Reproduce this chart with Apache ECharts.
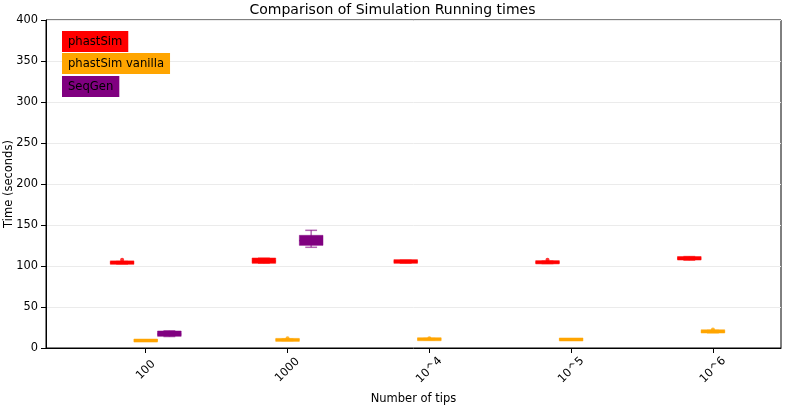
<!DOCTYPE html>
<html>
<head>
<meta charset="utf-8">
<script src="https://cdn.jsdelivr.net/npm/echarts@6/dist/echarts.min.js"></script>
<style>html,body{margin:0;padding:0;background:#fff}#c{width:785px;height:407px}</style>
</head>
<body>
<div id="c"></div>
<script>
// ---- data ----
const tickLabels = ['100', '1000', '10^4', '10^5', '10^6'];
const groupSpacing = 3;
const seriesNames = ['phastSim', 'phastSim vanilla', 'SeqGen'];
const seriesColors = ['#ff0000', '#ffa500', '#800080'];
const seriesOffsets = [-0.5, 0, 0.5];
// [group index, min, q1, median, q3, max]
const phastSimStats = [
  [0, 102.5, 103.3, 104, 105, 105.5],
  [1, 103.5, 104.5, 106, 108.5, 109.5],
  [2, 103.5, 104.5, 105.5, 106.5, 107],
  [3, 103, 103.8, 104.5, 105.3, 106],
  [4, 107, 108.5, 109.5, 110.3, 111.5]
];
const vanillaStats = [
  [0, 9, 9.3, 9.5, 9.7, 10],
  [1, 9, 9.5, 10, 10.5, 11],
  [2, 10, 10.5, 11, 11.3, 11.6],
  [3, 10.5, 10.7, 10.9, 11, 11.2],
  [4, 18.5, 19.5, 20, 21, 21.5]
];
const seqGenStats = [
  [0, 14, 15.5, 17, 19.5, 21],
  [1, 122.8, 126.4, 131, 136.2, 143.5]
];
// [group index, value]
const phastSimOutliers = [[0, 107.5], [3, 107.5]];
const vanillaOutliers = [[1, 12], [2, 12], [4, 22.5]];
const seqGenOutliers = [];

const allStats = [phastSimStats, vanillaStats, seqGenStats];
const allOutliers = [phastSimOutliers, vanillaOutliers, seqGenOutliers];
const boxWidth = 0.5;

const FONT = 'DejaVu Sans';

function makeRender(color) {
  return function (params, api) {
    const x = api.value(0);
    const pMin = api.coord([x, api.value(1)]);
    const pQ1 = api.coord([x, api.value(2)]);
    const pMed = api.coord([x, api.value(3)]);
    const pQ3 = api.coord([x, api.value(4)]);
    const pMax = api.coord([x, api.value(5)]);
    const w = api.size([boxWidth, 0])[0];
    const cx = pMed[0];
    const lineStyle = { stroke: color, lineWidth: 1.5, opacity: 0.6 };
    return {
      type: 'group',
      children: [
        { type: 'line', shape: { x1: cx, y1: pMin[1], x2: cx, y2: pQ1[1] }, style: lineStyle },
        { type: 'line', shape: { x1: cx, y1: pQ3[1], x2: cx, y2: pMax[1] }, style: lineStyle },
        { type: 'line', shape: { x1: cx - w / 4, y1: pMin[1], x2: cx + w / 4, y2: pMin[1] }, style: lineStyle },
        { type: 'line', shape: { x1: cx - w / 4, y1: pMax[1], x2: cx + w / 4, y2: pMax[1] }, style: lineStyle },
        { type: 'rect', shape: { x: cx - w / 2, y: Math.min(pQ1[1], pQ3[1]) - 1, width: w, height: Math.max(Math.abs(pQ1[1] - pQ3[1]), 1) + 2 },
          style: { fill: color, stroke: color, lineWidth: 0.5 } },
        { type: 'line', shape: { x1: cx - w / 2, y1: pMed[1], x2: cx + w / 2, y2: pMed[1] }, style: { stroke: color, lineWidth: 1.5 } }
      ]
    };
  };
}

const series = [];
seriesNames.forEach((name, i) => {
  series.push({
    name: name,
    type: 'custom',
    renderItem: makeRender(seriesColors[i]),
    encode: { x: 0, y: [1, 2, 3, 4, 5] },
    data: allStats[i].map(r => [r[0] * groupSpacing + seriesOffsets[i], r[1], r[2], r[3], r[4], r[5]]),
    z: 3
  });
  series.push({
    name: name,
    type: 'scatter',
    symbol: 'circle',
    symbolSize: 4,
    itemStyle: { color: seriesColors[i] },
    data: allOutliers[i].map(r => [r[0] * groupSpacing + seriesOffsets[i], r[1]]),
    z: 4
  });
});

const tickValues = tickLabels.map((_, i) => i * groupSpacing);

const chart = echarts.init(document.getElementById('c'), null, { renderer: 'canvas' });
chart.setOption({
  animation: false,
  backgroundColor: '#fff',
  title: {
    text: 'Comparison of Simulation Running times',
    left: 'center', top: -2,
    textStyle: { fontFamily: FONT, fontSize: 14, fontWeight: 'normal', color: '#000' }
  },
  grid: { left: 46, right: 4, top: 20, bottom: 59, show: true, borderColor: '#000', borderWidth: 1,
          containLabel: false, outerBoundsMode: 'none' },
  xAxis: {
    type: 'value',
    min: -2.11, max: 13.44,
    name: 'Number of tips', nameLocation: 'middle', nameGap: 45,
    nameTextStyle: { fontFamily: FONT, fontSize: 11.5, color: '#000' },
    axisLine: { show: true, onZero: false, lineStyle: { color: '#000' } },
    axisTick: { show: true, customValues: tickValues, length: 5, lineStyle: { color: '#000' } },
    axisLabel: {
      customValues: tickValues,
      formatter: v => tickLabels[Math.round(v / groupSpacing)],
      rotate: 45, align: 'center', verticalAlign: 'middle', margin: 22,
      fontFamily: FONT, fontSize: 11.4, color: '#000'
    },
    splitLine: { show: false }
  },
  yAxis: {
    type: 'value',
    min: 0, max: 400, interval: 50,
    name: 'Time (seconds)', nameLocation: 'middle', nameGap: 31,
    nameMoveOverlap: false,
    nameTextStyle: { fontFamily: FONT, fontSize: 11.5, color: '#000' },
    axisLine: { show: true, onZero: false, lineStyle: { color: '#000' } },
    axisTick: { show: true, length: 5, lineStyle: { color: '#000' } },
    axisLabel: { fontFamily: FONT, fontSize: 11.4, color: '#000', margin: 8 },
    splitLine: { show: true, lineStyle: { color: '#ebebeb', width: 1 } }
  },
  graphic: seriesNames.map((name, i) => ({
    type: 'text',
    left: 62,
    top: [31, 53, 76][i],
    z: 100,
    style: {
      text: name,
      fill: '#000',
      font: '11.6px "DejaVu Sans"',
      backgroundColor: seriesColors[i],
      padding: [5, 6, 4, 6]
    }
  })),
  series: series
});
</script>
</body>
</html>
